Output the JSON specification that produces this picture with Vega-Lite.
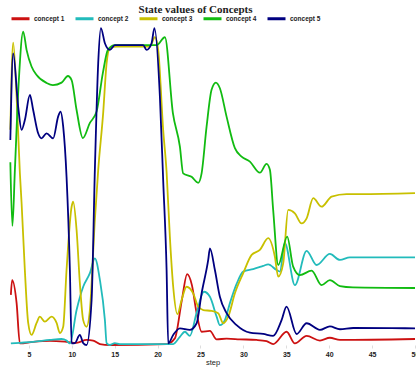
{
"$schema": "https://vega.github.io/schema/vega-lite/v6.json",
"width": 405, "height": 315,
"autosize": {"type": "none"},
"padding": {"left": 10, "top": 30, "right": 1, "bottom": 23},
"background": "white",
"title": {"text": "State values of Concepts", "font": "Liberation Serif", "fontSize": 11, "fontWeight": "bold", "color": "#222222", "anchor": "middle", "dx": -17, "offset": -7},
"config": {"view": {"stroke": null}},
"data": {"values": [
{"concept":"concept 1","step":2.9,"value":0.159},{"concept":"concept 1","step":3.05,"value":0.206},{"concept":"concept 1","step":3.57,"value":0.133},{"concept":"concept 1","step":3.95,"value":0.005},{"concept":"concept 1","step":5.5,"value":0.010},{"concept":"concept 1","step":7.45,"value":0.013},{"concept":"concept 1","step":9.39,"value":0.010},{"concept":"concept 1","step":10.56,"value":0.007},{"concept":"concept 1","step":11.72,"value":0.016},{"concept":"concept 1","step":12.49,"value":0.014},{"concept":"concept 1","step":13.28,"value":0.003},{"concept":"concept 1","step":14.44,"value":0},{"concept":"concept 1","step":21.05,"value":0.003},{"concept":"concept 1","step":22.01,"value":0.021},{"concept":"concept 1","step":22.83,"value":0.143},{"concept":"concept 1","step":23.45,"value":0.225},{"concept":"concept 1","step":24.0,"value":0.19},{"concept":"concept 1","step":24.55,"value":0.101},{"concept":"concept 1","step":25.13,"value":0.042},{"concept":"concept 1","step":26.1,"value":0.045},{"concept":"concept 1","step":26.88,"value":0.018},{"concept":"concept 1","step":28.04,"value":0.02},{"concept":"concept 1","step":29.59,"value":0.018},{"concept":"concept 1","step":31.54,"value":0.016},{"concept":"concept 1","step":32.7,"value":0.012},{"concept":"concept 1","step":33.47,"value":0.003},{"concept":"concept 1","step":35.03,"value":0.042},{"concept":"concept 1","step":36.0,"value":0.005},{"concept":"concept 1","step":37.37,"value":0.029},{"concept":"concept 1","step":38.92,"value":0.014},{"concept":"concept 1","step":40.08,"value":0.023},{"concept":"concept 1","step":41.25,"value":0.016},{"concept":"concept 1","step":50,"value":0.019},
{"concept":"concept 2","step":2.9,"value":0.005},{"concept":"concept 2","step":3.95,"value":0.007},{"concept":"concept 2","step":5.5,"value":0.010},{"concept":"concept 2","step":7.45,"value":0.016},{"concept":"concept 2","step":8.81,"value":0.019},{"concept":"concept 2","step":9.39,"value":0.014},{"concept":"concept 2","step":9.78,"value":0.005},{"concept":"concept 2","step":10.56,"value":0.111},{"concept":"concept 2","step":11.33,"value":0.185},{"concept":"concept 2","step":12.11,"value":0.228},{"concept":"concept 2","step":12.69,"value":0.275},{"concept":"concept 2","step":13.28,"value":0.206},{"concept":"concept 2","step":13.86,"value":0.079},{"concept":"concept 2","step":14.06,"value":0.006},{"concept":"concept 2","step":14.44,"value":0},{"concept":"concept 2","step":15.02,"value":0.006},{"concept":"concept 2","step":15.6,"value":0.003},{"concept":"concept 2","step":21.82,"value":0.003},{"concept":"concept 2","step":22.6,"value":0.026},{"concept":"concept 2","step":23.18,"value":0.042},{"concept":"concept 2","step":23.76,"value":0.029},{"concept":"concept 2","step":24.55,"value":0.102},{"concept":"concept 2","step":25.4,"value":0.169},{"concept":"concept 2","step":26.1,"value":0.153},{"concept":"concept 2","step":26.88,"value":0.09},{"concept":"concept 2","step":27.26,"value":0.063},{"concept":"concept 2","step":27.84,"value":0.079},{"concept":"concept 2","step":28.43,"value":0.133},{"concept":"concept 2","step":29.21,"value":0.194},{"concept":"concept 2","step":29.98,"value":0.233},{"concept":"concept 2","step":31.14,"value":0.241},{"concept":"concept 2","step":32.31,"value":0.251},{"concept":"concept 2","step":32.89,"value":0.256},{"concept":"concept 2","step":33.87,"value":0.238},{"concept":"concept 2","step":34.25,"value":0.233},{"concept":"concept 2","step":34.84,"value":0.323},{"concept":"concept 2","step":36.0,"value":0.19},{"concept":"concept 2","step":37.37,"value":0.299},{"concept":"concept 2","step":38.53,"value":0.254},{"concept":"concept 2","step":40.08,"value":0.289},{"concept":"concept 2","step":41.25,"value":0.27},{"concept":"concept 2","step":42.41,"value":0.278},{"concept":"concept 2","step":50,"value":0.278},
{"concept":"concept 3","step":2.84,"value":0.683},{"concept":"concept 3","step":3.17,"value":0.96},{"concept":"concept 3","step":3.57,"value":0.788},{"concept":"concept 3","step":3.95,"value":0.546},{"concept":"concept 3","step":4.15,"value":0.451},{"concept":"concept 3","step":4.53,"value":0.238},{"concept":"concept 3","step":4.92,"value":0.07},{"concept":"concept 3","step":5.31,"value":0.032},{"concept":"concept 3","step":5.9,"value":0.07},{"concept":"concept 3","step":6.28,"value":0.09},{"concept":"concept 3","step":6.86,"value":0.074},{"concept":"concept 3","step":7.65,"value":0.09},{"concept":"concept 3","step":8.23,"value":0.07},{"concept":"concept 3","step":8.61,"value":0.038},{"concept":"concept 3","step":9.0,"value":0.058},{"concept":"concept 3","step":9.39,"value":0.238},{"concept":"concept 3","step":9.98,"value":0.439},{"concept":"concept 3","step":10.16,"value":0.455},{"concept":"concept 3","step":10.56,"value":0.365},{"concept":"concept 3","step":10.94,"value":0.197},{"concept":"concept 3","step":11.33,"value":0.079},{"concept":"concept 3","step":11.72,"value":0.058},{"concept":"concept 3","step":12.11,"value":0.111},{"concept":"concept 3","step":12.69,"value":0.397},{"concept":"concept 3","step":13.08,"value":0.556},{"concept":"concept 3","step":13.66,"value":0.737},{"concept":"concept 3","step":14.06,"value":0.895},{"concept":"concept 3","step":14.44,"value":0.942},{"concept":"concept 3","step":15.22,"value":0.947},{"concept":"concept 3","step":19.1,"value":0.947},{"concept":"concept 3","step":19.69,"value":0.977},{"concept":"concept 3","step":20.07,"value":0.937},{"concept":"concept 3","step":20.65,"value":0.683},{"concept":"concept 3","step":21.05,"value":0.549},{"concept":"concept 3","step":21.43,"value":0.344},{"concept":"concept 3","step":21.82,"value":0.185},{"concept":"concept 3","step":22.31,"value":0.098},{"concept":"concept 3","step":22.8,"value":0.143},{"concept":"concept 3","step":23.38,"value":0.185},{"concept":"concept 3","step":24.15,"value":0.164},{"concept":"concept 3","step":24.73,"value":0.122},{"concept":"concept 3","step":25.32,"value":0.111},{"concept":"concept 3","step":26.29,"value":0.108},{"concept":"concept 3","step":27.06,"value":0.101},{"concept":"concept 3","step":27.65,"value":0.069},{"concept":"concept 3","step":28.23,"value":0.09},{"concept":"concept 3","step":29.01,"value":0.164},{"concept":"concept 3","step":29.98,"value":0.228},{"concept":"concept 3","step":30.96,"value":0.286},{"concept":"concept 3","step":31.92,"value":0.302},{"concept":"concept 3","step":32.89,"value":0.339},{"concept":"concept 3","step":33.67,"value":0.28},{"concept":"concept 3","step":34.06,"value":0.217},{"concept":"concept 3","step":34.64,"value":0.259},{"concept":"concept 3","step":35.22,"value":0.429},{"concept":"concept 3","step":36.0,"value":0.418},{"concept":"concept 3","step":36.78,"value":0.386},{"concept":"concept 3","step":37.37,"value":0.402},{"concept":"concept 3","step":38.14,"value":0.466},{"concept":"concept 3","step":39.11,"value":0.439},{"concept":"concept 3","step":40.28,"value":0.471},{"concept":"concept 3","step":42.03,"value":0.479},{"concept":"concept 3","step":43.58,"value":0.479},{"concept":"concept 3","step":50,"value":0.482},
{"concept":"concept 4","step":2.84,"value":0.58},{"concept":"concept 4","step":3.08,"value":0.378},{"concept":"concept 4","step":3.37,"value":0.556},{"concept":"concept 4","step":3.83,"value":0.841},{"concept":"concept 4","step":4.34,"value":0.995},{"concept":"concept 4","step":4.73,"value":0.937},{"concept":"concept 4","step":5.31,"value":0.884},{"concept":"concept 4","step":5.9,"value":0.857},{"concept":"concept 4","step":7.06,"value":0.832},{"concept":"concept 4","step":7.8,"value":0.825},{"concept":"concept 4","step":8.81,"value":0.833},{"concept":"concept 4","step":9.55,"value":0.854},{"concept":"concept 4","step":9.98,"value":0.841},{"concept":"concept 4","step":10.56,"value":0.746},{"concept":"concept 4","step":11.29,"value":0.657},{"concept":"concept 4","step":12.11,"value":0.705},{"concept":"concept 4","step":12.89,"value":0.741},{"concept":"concept 4","step":13.62,"value":0.863},{"concept":"concept 4","step":14.21,"value":0.937},{"concept":"concept 4","step":15.02,"value":0.952},{"concept":"concept 4","step":19.88,"value":0.952},{"concept":"concept 4","step":20.85,"value":0.977},{"concept":"concept 4","step":21.78,"value":0.737},{"concept":"concept 4","step":22.6,"value":0.63},{"concept":"concept 4","step":22.98,"value":0.545},{"concept":"concept 4","step":23.96,"value":0.534},{"concept":"concept 4","step":24.73,"value":0.515},{"concept":"concept 4","step":25.13,"value":0.545},{"concept":"concept 4","step":25.71,"value":0.693},{"concept":"concept 4","step":26.29,"value":0.81},{"concept":"concept 4","step":26.79,"value":0.833},{"concept":"concept 4","step":27.26,"value":0.815},{"concept":"concept 4","step":28.04,"value":0.725},{"concept":"concept 4","step":29.01,"value":0.625},{"concept":"concept 4","step":29.79,"value":0.598},{"concept":"concept 4","step":30.76,"value":0.582},{"concept":"concept 4","step":31.92,"value":0.547},{"concept":"concept 4","step":32.7,"value":0.575},{"concept":"concept 4","step":33.09,"value":0.556},{"concept":"concept 4","step":33.47,"value":0.429},{"concept":"concept 4","step":34.06,"value":0.254},{"concept":"concept 4","step":35.1,"value":0.344},{"concept":"concept 4","step":35.8,"value":0.249},{"concept":"concept 4","step":36.59,"value":0.222},{"concept":"concept 4","step":37.95,"value":0.236},{"concept":"concept 4","step":39.11,"value":0.19},{"concept":"concept 4","step":40.08,"value":0.206},{"concept":"concept 4","step":41.25,"value":0.187},{"concept":"concept 4","step":42.76,"value":0.183},{"concept":"concept 4","step":50,"value":0.181},
{"concept":"concept 5","step":2.84,"value":0.651},{"concept":"concept 5","step":3.17,"value":0.926},{"concept":"concept 5","step":3.75,"value":0.757},{"concept":"concept 5","step":4.15,"value":0.683},{"concept":"concept 5","step":4.53,"value":0.714},{"concept":"concept 5","step":5.12,"value":0.794},{"concept":"concept 5","step":5.5,"value":0.746},{"concept":"concept 5","step":6.08,"value":0.672},{"concept":"concept 5","step":6.48,"value":0.656},{"concept":"concept 5","step":7.06,"value":0.672},{"concept":"concept 5","step":7.83,"value":0.656},{"concept":"concept 5","step":8.41,"value":0.725},{"concept":"concept 5","step":8.69,"value":0.741},{"concept":"concept 5","step":9.0,"value":0.693},{"concept":"concept 5","step":9.39,"value":0.534},{"concept":"concept 5","step":9.78,"value":0.238},{"concept":"concept 5","step":9.98,"value":0.005},{"concept":"concept 5","step":10.36,"value":0.006},{"concept":"concept 5","step":10.94,"value":0.032},{"concept":"concept 5","step":11.33,"value":0.006},{"concept":"concept 5","step":11.72,"value":0},{"concept":"concept 5","step":12.31,"value":0.143},{"concept":"concept 5","step":12.69,"value":0.556},{"concept":"concept 5","step":13.08,"value":0.895},{"concept":"concept 5","step":13.39,"value":1.006},{"concept":"concept 5","step":13.86,"value":0.958},{"concept":"concept 5","step":14.44,"value":0.937},{"concept":"concept 5","step":15.02,"value":0.952},{"concept":"concept 5","step":18.32,"value":0.952},{"concept":"concept 5","step":18.72,"value":0.937},{"concept":"concept 5","step":19.3,"value":0.958},{"concept":"concept 5","step":19.63,"value":1.006},{"concept":"concept 5","step":20.27,"value":0.788},{"concept":"concept 5","step":20.65,"value":0.524},{"concept":"concept 5","step":21.05,"value":0.238},{"concept":"concept 5","step":21.24,"value":0.005},{"concept":"concept 5","step":21.82,"value":0.032},{"concept":"concept 5","step":22.6,"value":0.053},{"concept":"concept 5","step":23.76,"value":0.048},{"concept":"concept 5","step":24.55,"value":0.069},{"concept":"concept 5","step":25.13,"value":0.164},{"concept":"concept 5","step":25.9,"value":0.27},{"concept":"concept 5","step":26.1,"value":0.307},{"concept":"concept 5","step":26.68,"value":0.238},{"concept":"concept 5","step":27.26,"value":0.153},{"concept":"concept 5","step":28.04,"value":0.101},{"concept":"concept 5","step":29.21,"value":0.063},{"concept":"concept 5","step":30.76,"value":0.039},{"concept":"concept 5","step":32.31,"value":0.035},{"concept":"concept 5","step":33.47,"value":0.029},{"concept":"concept 5","step":34.45,"value":0.079},{"concept":"concept 5","step":35.03,"value":0.122},{"concept":"concept 5","step":36.2,"value":0.035},{"concept":"concept 5","step":37.37,"value":0.069},{"concept":"concept 5","step":38.92,"value":0.048},{"concept":"concept 5","step":40.08,"value":0.059},{"concept":"concept 5","step":41.25,"value":0.05},{"concept":"concept 5","step":42.8,"value":0.054},{"concept":"concept 5","step":50,"value":0.053}
]},
"mark": {"type": "line", "strokeWidth": 1.8, "interpolate": "monotone"},
"encoding": {
"x": {"field": "step", "type": "quantitative", "scale": {"domain": [2.8, 50], "nice": false, "zero": false},
 "axis": {"title": "step", "values": [5,10,15,20,25,30,35,40,45,50], "grid": false, "domain": false, "ticks": true, "tickColor": "#dddddd", "tickSize": 3, "labelFont": "Liberation Sans", "labelFontSize": 7, "labelFontWeight": "bold", "labelColor": "#222222", "labelPadding": 2, "labelFlush": false, "labelBound": false, "labelOverlap": false, "titleFont": "Liberation Sans", "titleFontSize": 7.5, "titleFontWeight": "normal", "titleColor": "#222222", "titlePadding": 1}},
"y": {"field": "value", "type": "quantitative", "scale": {"domain": [0, 1], "nice": false, "zero": false}, "axis": null},
"color": {"field": "concept", "type": "nominal",
 "scale": {"domain": ["concept 1", "concept 2", "concept 3", "concept 4", "concept 5"], "range": ["#cc1111", "#22bbbb", "#c8c000", "#11bb11", "#000080"]},
 "legend": {"orient": "none", "legendX": 0, "legendY": -22, "direction": "horizontal", "title": null, "symbolType": "stroke", "symbolSize": 324, "symbolStrokeWidth": 3, "labelFont": "Liberation Sans", "labelFontSize": 6.5, "labelFontWeight": "bold", "labelColor": "#222222", "labelOffset": 3, "columnPadding": 4, "padding": 0}}
}
}
